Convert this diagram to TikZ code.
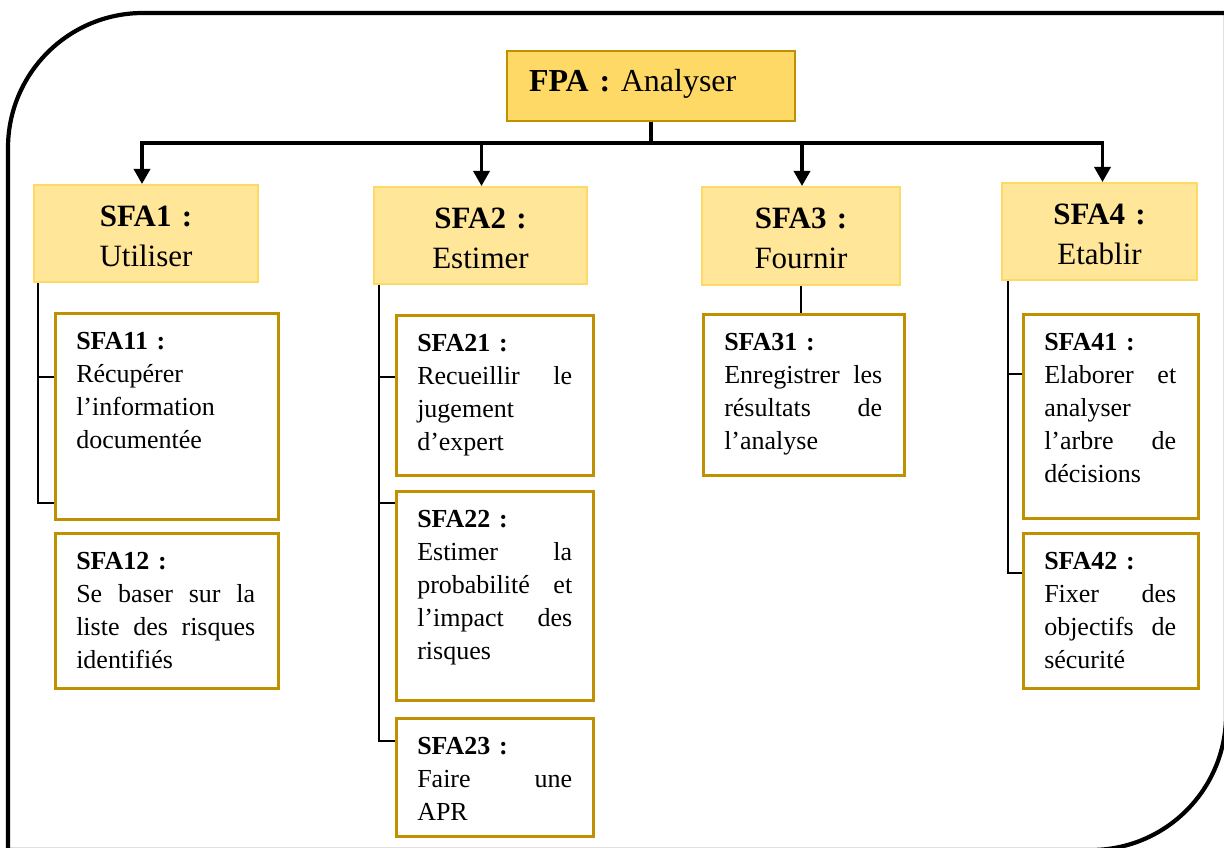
\documentclass[tikz,border=0pt]{standalone}
\usepackage{fontspec}
\setmainfont{Liberation Serif}
\usetikzlibrary{arrows.meta}
\definecolor{fpafill}{HTML}{FFD966}
\definecolor{hdrfill}{HTML}{FFE699}
\definecolor{hdrline}{HTML}{FFD966}
\definecolor{boxline}{HTML}{BF9000}
\newcommand\jl[2]{\leavevmode\hbox to #1{#2}}
\begin{document}
\begin{tikzpicture}[x=1pt,y=1pt,
  frame/.style={line width=4.2pt},
  fpabox/.style={draw=boxline, fill=fpafill, line width=2pt, anchor=north west,
    inner xsep=22pt, inner ysep=0pt, text width=244pt, text height=41pt, text depth=29pt,
    font=\fontsize{32}{38}\selectfont},
  hdr/.style={draw=hdrline, fill=hdrfill, line width=2pt, anchor=north west,
    inner xsep=4pt, inner ysep=0pt, align=center, text height=41pt,
    font=\fontsize{31}{40}\selectfont},
  sub/.style={draw=boxline, fill=white, line width=2.5pt, anchor=north west,
    inner xsep=21pt, inner ysep=0pt, text height=36pt,
    font=\fontsize{26}{33}\selectfont},
  busline/.style={line width=3.4pt},
  subline/.style={line width=2.4pt},
  tip/.tip={Triangle[width=16pt,length=15pt]}
]
\useasboundingbox (0,0) rectangle (1224,-848);

% outer frame
\draw[frame] (8,-148) arc[start angle=180, end angle=90, radius=135pt]
  -- (1226,-13) -- (1226,-715) arc[start angle=0, end angle=-90, radius=135pt]
  -- (8,-850) -- cycle;

% main function
\node[fpabox] (fpa) at (506,-50) {\textbf{FPA :} Analyser};

% sub functions
\node[hdr, text width=216pt, text depth=56pt] (sfa1) at (33,-184) {\textbf{SFA1 :}\\Utiliser};
\node[hdr, text width=205pt, text depth=56pt] (sfa2) at (373,-186) {\textbf{SFA2 :}\\Estimer};
\node[hdr, text width=190pt, text depth=57pt] (sfa3) at (701,-186) {\textbf{SFA3 :}\\Fournir};
\node[hdr, text width=187pt, text depth=56pt] (sfa4) at (1001,-182) {\textbf{SFA4 :}\\Etablir};

% detail boxes
\node[sub, text width=181pt, text depth=170pt] (sfa11) at (54,-312)
  {\textbf{SFA11 :}\\Récupérer\\l’information\\documentée};
\node[sub, text width=181pt, text depth=119pt] (sfa12) at (54,-532)
  {\textbf{SFA12 :}\\\jl{179pt}{Se\hfill baser\hfill sur\hfill la}\\\jl{179pt}{liste\hfill des\hfill risques}\\identifiés};
\node[sub, text width=155pt, text depth=124pt] (sfa21) at (395,-314)
  {\textbf{SFA21 :}\\\jl{155pt}{Recueillir\hfill le}\\jugement\\d’expert};
\node[sub, text width=155pt, text depth=173pt] (sfa22) at (395,-490)
  {\textbf{SFA22 :}\\\jl{155pt}{Estimer\hfill la}\\\jl{155pt}{probabilité\hfill et}\\\jl{155pt}{l’impact\hfill des}\\risques};
\node[sub, text width=155pt, text depth=82pt] (sfa23) at (395,-717)
  {\textbf{SFA23 :}\\\jl{155pt}{Faire\hfill une}\\APR};
\node[sub, text width=159pt, text depth=125pt] (sfa31) at (702,-313)
  {\textbf{SFA31 :}\\\jl{158pt}{Enregistrer\hfill les}\\\jl{158pt}{résultats\hfill de}\\l’analyse};
\node[sub, text width=133pt, text depth=168pt] (sfa41) at (1022,-313)
  {\textbf{SFA41 :}\\\jl{132pt}{Elaborer\hfill et}\\analyser\\\jl{132pt}{l’arbre\hfill de}\\décisions};
\node[sub, text width=133pt, text depth=119pt] (sfa42) at (1022,-532)
  {\textbf{SFA42 :}\\\jl{132pt}{Fixer\hfill des}\\\jl{132pt}{objectifs\hfill de}\\sécurité};

% main bus
\coordinate (bus) at (651,-143);
\draw[busline] (fpa.south) -- (fpa.south |- bus);
\draw[busline, tip-tip] ([xshift=-4pt]sfa1.north) |- (bus) -| ([xshift=3pt]sfa4.north);
\draw[busline, -tip] ([xshift=1pt]sfa2.north |- bus) -- ([xshift=1pt]sfa2.north);
\draw[busline, -tip] ([xshift=1pt]sfa3.north |- bus) -- ([xshift=1pt]sfa3.north);

% branch points
\coordinate (s1a) at (38,-377);
\coordinate (s1b) at (38,-503);
\coordinate (s2a) at (379,-377);
\coordinate (s2b) at (379,-503);
\coordinate (s2c) at (379,-741);
\coordinate (s4a) at (1008,-374);
\coordinate (s4b) at (1008,-573);

% column 1
\draw[subline] (s1a |- sfa1.south) |- (sfa11.west |- s1b);
\draw[subline] (s1a) -- (s1a -| sfa11.west);
% column 2
\draw[subline] (s2a |- sfa2.south) |- (sfa23.west |- s2c);
\draw[subline] (s2a) -- (s2a -| sfa21.west);
\draw[subline] (s2b) -- (s2b -| sfa22.west);
% column 3
\draw[subline] (sfa3.south) -- (sfa3.south |- sfa31.north);
% column 4
\draw[subline] (s4a |- sfa4.south) |- (sfa42.west |- s4b);
\draw[subline] (s4a) -- (s4a -| sfa41.west);
\end{tikzpicture}
\end{document}
